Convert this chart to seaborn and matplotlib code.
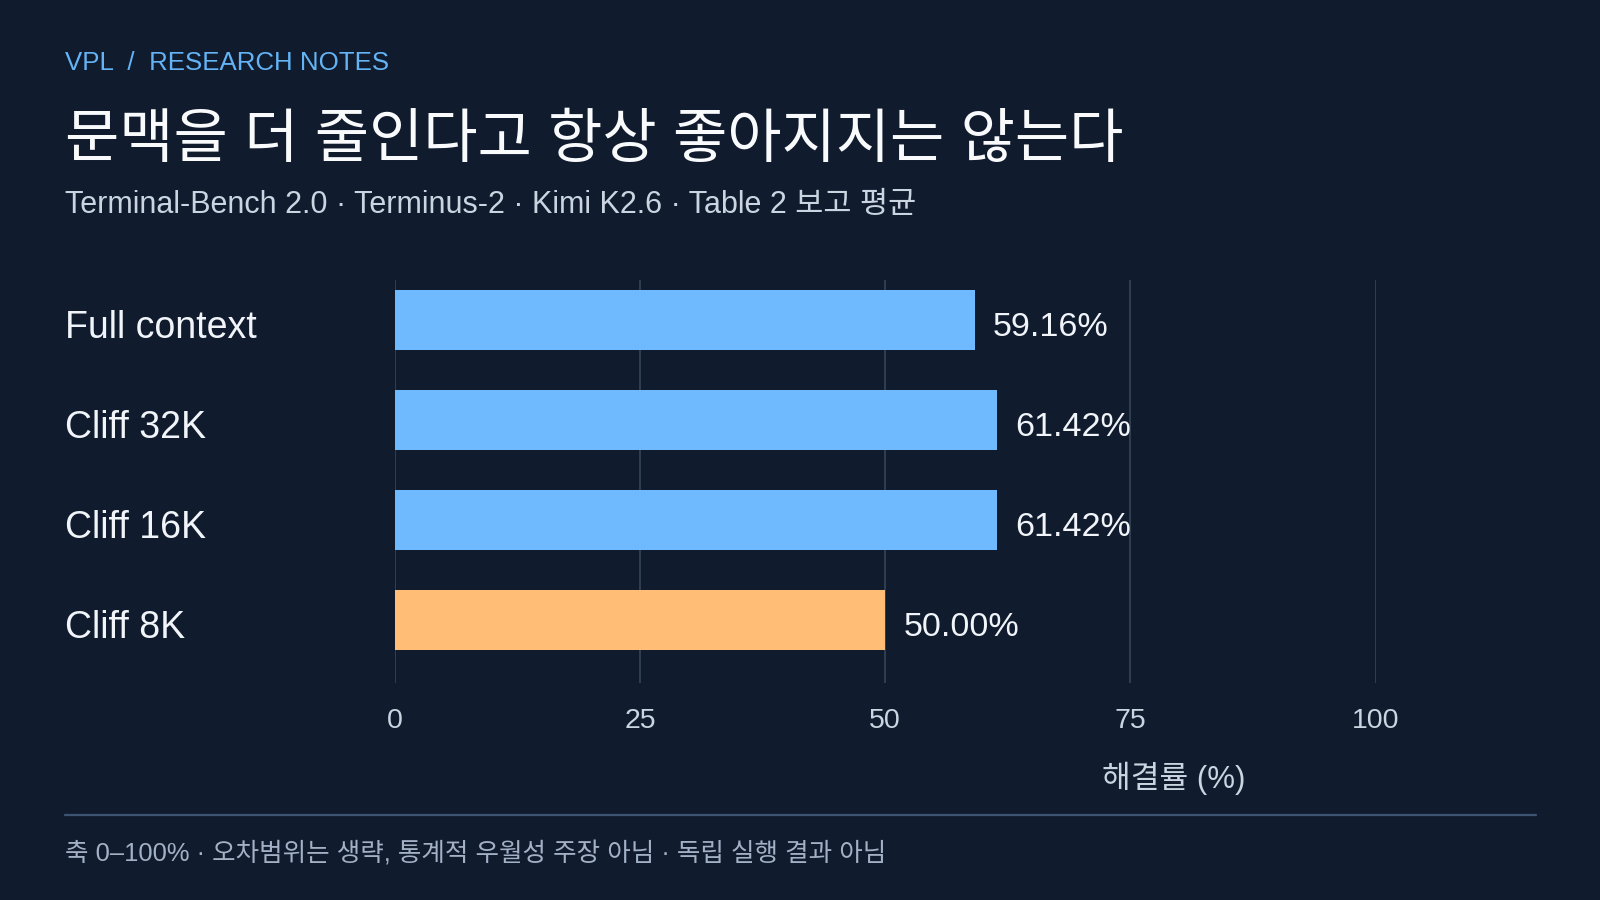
import pandas as pd
import seaborn as sns
import matplotlib.pyplot as plt
from matplotlib.transforms import blended_transform_factory

# data
settings = ['Full context', 'Cliff 32K', 'Cliff 16K', 'Cliff 8K']
solve_rate = [59.16, 61.42, 61.42, 50.00]
bar_colors = ['#6fb9ff', '#6fb9ff', '#6fb9ff', '#ffbd75']
x_ticks = [0, 25, 50, 75, 100]

BG = '#101b2e'
GRID = '#334155'

sns.set_theme(style='dark')
plt.rcParams['font.family'] = ['Liberation Sans', 'Noto Sans CJK KR', 'DejaVu Sans']

df = pd.DataFrame({'setting': settings, 'rate': solve_rate})

fig = plt.figure(figsize=(16, 9), dpi=100, facecolor=BG)
ax = fig.add_axes([0.2468, 0.2415, 0.6129, 0.4478])
ax.set_facecolor(BG)

sns.barplot(
    data=df, x='rate', y='setting', hue='setting',
    palette=dict(zip(settings, bar_colors)), order=settings,
    legend=False, width=0.6, saturation=1, linewidth=0, edgecolor='none', ax=ax
)

ax.set_xlim(0, 100)
ax.set_ylim(3.63, -0.4)
ax.set_xticks(x_ticks)
ax.set_xticklabels([str(t) for t in x_ticks])
ax.tick_params(axis='x', length=0, pad=18, labelsize=20.5, labelcolor='#cbd5e1')
ax.set_yticks([])
ax.set_xlabel('')
ax.set_ylabel('')
for s in ax.spines.values():
    s.set_visible(False)
for t in x_ticks:
    ax.axvline(t, color=GRID, lw=1.3, zorder=0)

# category labels sit at the left margin of the figure
trans = blended_transform_factory(fig.transFigure, ax.transData)
for i, name in enumerate(settings):
    ax.text(0.0408, i + 0.08, name, transform=trans, ha='left', va='center',
            fontsize=27, color='#f1f5f9')

# value labels after each bar
for i, v in enumerate(solve_rate):
    ax.annotate(f'{v:.2f}%', xy=(v, i + 0.08), xytext=(13, 0),
                textcoords='offset points', ha='left', va='center',
                fontsize=24.6, color='#f1f5f9')

# header
fig.text(0.0408, 1 - 62 / 882, 'VPL  /  RESEARCH NOTES', ha='left', va='center',
         fontsize=18.6, color='#63b3f5')
fig.text(0.0408, 1 - 139 / 882, '문맥을 더 줄인다고 항상 좋아지지는 않는다',
         ha='left', va='center', fontsize=42.5, color='#f8fafc')
fig.text(0.0408, 1 - 201 / 882,
         'Terminal-Bench 2.0 · Terminus-2 · Kimi K2.6 · Table 2 보고 평균',
         ha='left', va='center', fontsize=22, color='#cbd5e1')

# axis title, placed to the right
fig.text(1150 / 1568, 1 - 763 / 882, '해결률 (%)', ha='center', va='center',
         fontsize=22.5, color='#cbd5e1')

# footer rule and note
fig.add_artist(plt.Line2D([64 / 1568, 1505 / 1568], [1 - 799 / 882] * 2,
                          transform=fig.transFigure, color='#3e5473', lw=1.6))
fig.text(0.0408, 1 - 837 / 882,
         '축 0–100% · 오차범위는 생략, 통계적 우월성 주장 아님 · 독립 실행 결과 아님',
         ha='left', va='center', fontsize=18.4, color='#a3b1c6')

fig.savefig('out.png', dpi=100, facecolor=BG)
